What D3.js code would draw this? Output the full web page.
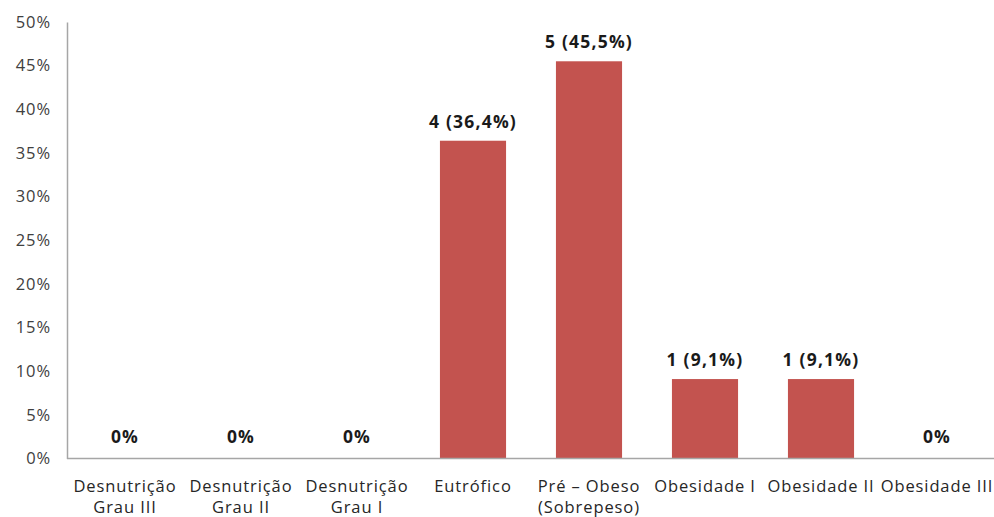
<!DOCTYPE html>
<html>
<head>
<meta charset="utf-8">
<script src="https://cdn.jsdelivr.net/npm/d3@7"></script>
<style>
  html, body { margin: 0; padding: 0; background: #fff; }
  svg { display: block; }
  text { font-family: "Open Sans", "Noto Sans", sans-serif; }
</style>
</head>
<body>
<svg id="chart" width="994" height="517"></svg>
<script>
// Nutritional status classification: counts and share of patients
const categories = [
  ["Desnutrição", "Grau III"],
  ["Desnutrição", "Grau II"],
  ["Desnutrição", "Grau I"],
  ["Eutrófico"],
  ["Pré – Obeso", "(Sobrepeso)"],
  ["Obesidade I"],
  ["Obesidade II"],
  ["Obesidade III"]
];
const counts = [0, 0, 0, 4, 5, 1, 1, 0];
const percents = [0, 0, 0, 36.4, 45.5, 9.1, 9.1, 0];
const yTicks = [0, 5, 10, 15, 20, 25, 30, 35, 40, 45, 50];

const svg = d3.select("#chart");
const margin = { left: 67, right: 0, top: 22, bottom: 58 };
const width = 994, height = 517;
const fontSize = 16.5;
const spacing = 0.9;

const x = d3.scaleBand()
  .domain(d3.range(categories.length))
  .range([margin.left, margin.left + 8 * 116])
  .paddingInner(0.43)
  .paddingOuter(0.215);

const y = d3.scaleLinear()
  .domain([0, 50])
  .range([height - margin.bottom - 0.5, margin.top]);

const fmtPct = v => String(v).replace(".", ",") + "%";

// Y axis: labels only, with a plain grey spine
const yAxis = d3.axisLeft(y)
  .tickValues(yTicks)
  .tickSize(0)
  .tickPadding(16)
  .tickFormat(d => d + "%");

const gy = svg.append("g")
  .attr("transform", `translate(${margin.left},0)`)
  .call(yAxis);
gy.select(".domain").attr("stroke", "#a6a6a6").attr("stroke-width", 1.5);
gy.selectAll(".tick text")
  .attr("fill", "#404040")
  .attr("font-size", fontSize)
  .attr("letter-spacing", spacing);

// Bars
svg.append("g")
  .selectAll("rect")
  .data(percents)
  .join("rect")
  .attr("x", (d, i) => x(i))
  .attr("width", x.bandwidth())
  .attr("y", d => y(d))
  .attr("height", d => y(0) - y(d))
  .attr("fill", "#c3534f");

// X axis baseline and category labels
const xAxis = d3.axisBottom(x).tickSize(0).tickFormat("");
const gx = svg.append("g")
  .attr("transform", `translate(0,${y(0)})`)
  .call(xAxis);
gx.select(".domain").attr("stroke", "#a6a6a6").attr("stroke-width", 1.5)
  .attr("d", `M${margin.left},0H${width}`);

const lab = svg.append("g");
categories.forEach((lines, i) => {
  const cx = x(i) + x.bandwidth() / 2;
  const t = lab.append("text")
    .attr("x", cx)
    .attr("y", 492)
    .attr("text-anchor", "middle")
    .attr("fill", "#262626")
    .attr("font-size", fontSize)
    .attr("letter-spacing", spacing);
  lines.forEach((ln, k) => {
    t.append("tspan")
      .attr("x", cx)
      .attr("dy", k === 0 ? 0 : 21)
      .text(ln);
  });
});

// Value labels above each bar
svg.append("g")
  .selectAll("text")
  .data(percents)
  .join("text")
  .attr("x", (d, i) => x(i) + x.bandwidth() / 2)
  .attr("y", d => y(d) - (d === 0 ? 16 : 13))
  .attr("text-anchor", "middle")
  .attr("font-weight", "bold")
  .attr("font-size", 17.5)
  .attr("letter-spacing", 1.2)
  .attr("fill", "#1a1a1a")
  .text((d, i) => counts[i] === 0 ? "0%" : `${counts[i]} (${fmtPct(d)})`);
</script>
</body>
</html>
